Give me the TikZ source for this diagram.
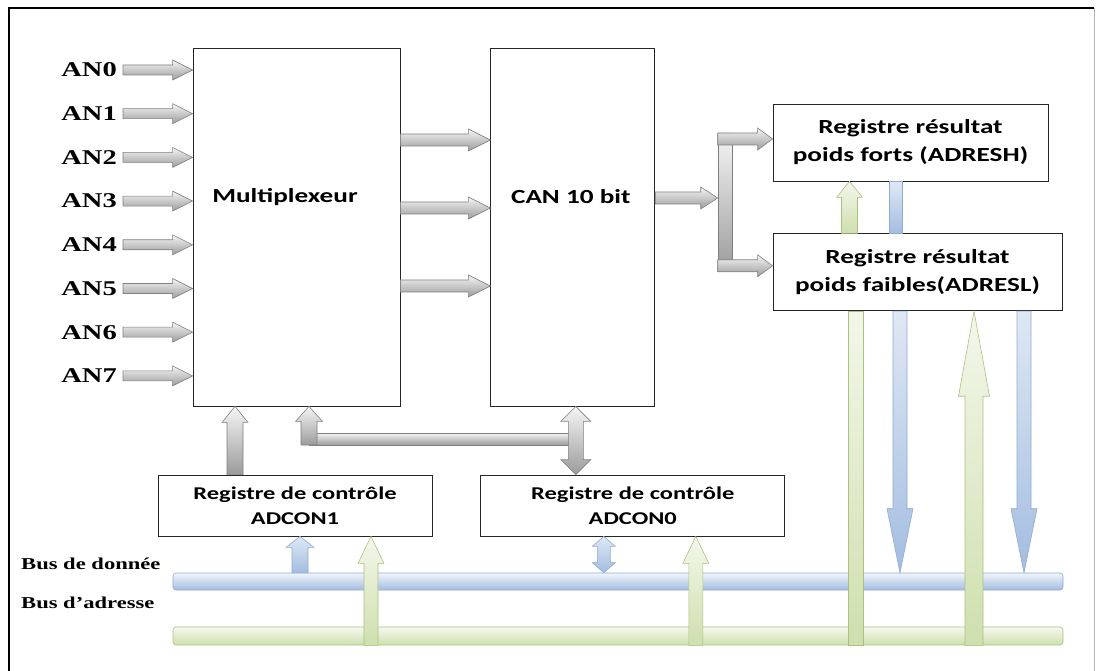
\documentclass[tikz,border=0pt]{standalone}
\usepackage{fontspec}
\setmainfont{Liberation Serif}[FakeStretch=1.36]
\newfontfamily\calibri{Carlito}[FakeStretch=1.36]
\usetikzlibrary{calc,positioning}

\definecolor{arrline}{HTML}{7F7F7F}
\definecolor{gline}{HTML}{ABC27E}
\definecolor{gfill}{HTML}{CFDFAE}
\definecolor{bline}{HTML}{8FAAD2}
\definecolor{bfill}{HTML}{A3BDE0}

% block arrows: shaft half width, head half width, head length
\tikzset{
  fat/.style n args={3}{to path={
    let \p1=(\tikztostart), \p2=(\tikztotarget),
        \n1={veclen(\x2-\x1,\y2-\y1)},
        \n2={(\x2-\x1)/\n1}, \n3={(\y2-\y1)/\n1},
        \p3=({\x2-(\n2)*(#3)},{\y2-(\n3)*(#3)})
    in ({\x1-(\n3)*(#1)},{\y1+(\n2)*(#1)}) -- ({\x3-(\n3)*(#1)},{\y3+(\n2)*(#1)})
       -- ({\x3-(\n3)*(#2)},{\y3+(\n2)*(#2)}) -- (\p2)
       -- ({\x3+(\n3)*(#2)},{\y3-(\n2)*(#2)}) -- ({\x3+(\n3)*(#1)},{\y3-(\n2)*(#1)})
       -- ({\x1+(\n3)*(#1)},{\y1-(\n2)*(#1)}) -- cycle
  }},
  fatboth/.style n args={3}{to path={
    let \p1=(\tikztostart), \p2=(\tikztotarget),
        \n1={veclen(\x2-\x1,\y2-\y1)},
        \n2={(\x2-\x1)/\n1}, \n3={(\y2-\y1)/\n1},
        \p3=({\x2-(\n2)*(#3)},{\y2-(\n3)*(#3)}),
        \p4=({\x1+(\n2)*(#3)},{\y1+(\n3)*(#3)})
    in (\p1) -- ({\x4-(\n3)*(#2)},{\y4+(\n2)*(#2)}) -- ({\x4-(\n3)*(#1)},{\y4+(\n2)*(#1)})
       -- ({\x3-(\n3)*(#1)},{\y3+(\n2)*(#1)}) -- ({\x3-(\n3)*(#2)},{\y3+(\n2)*(#2)})
       -- (\p2)
       -- ({\x3+(\n3)*(#2)},{\y3-(\n2)*(#2)}) -- ({\x3+(\n3)*(#1)},{\y3-(\n2)*(#1)})
       -- ({\x4+(\n3)*(#1)},{\y4-(\n2)*(#1)}) -- ({\x4+(\n3)*(#2)},{\y4-(\n2)*(#2)})
       -- cycle
  }},
}

\begin{document}
\begin{tikzpicture}[
  x=1pt, y=-1pt,
  reg/.style={draw=black!85, line width=0.8pt, fill=white, inner sep=0pt, align=center},
  regfont/.style={font=\calibri\bfseries\fontsize{18}{25}\selectfont},
  resfont/.style={font=\calibri\bfseries\fontsize{20}{28}\selectfont},
  bigfont/.style={font=\calibri\bfseries\fontsize{20}{24}\selectfont},
  anlabel/.style={font=\bfseries\fontsize{21}{25}\selectfont, inner sep=0pt, anchor=east},
  buslabel/.style={font=\bfseries\fontsize{16.6}{20}\selectfont, inner sep=0pt, anchor=west},
  grayarr/.style={draw=arrline, line width=0.6pt, top color=gray!8, bottom color=gray!78},
  greenarr/.style={draw=gline, line width=0.6pt, top color=gfill!25, bottom color=gfill},
  bluearr/.style={draw=bline, line width=0.6pt, top color=bfill!35, bottom color=bfill},
  bus/.style={minimum width=890pt, inner sep=0pt, rounded corners=3pt, line width=0.6pt}
]
\useasboundingbox (0,0) rectangle (1096,671);
\draw[line width=2pt] (9,680) -- (9,8) -- (1094,8);
\draw[line width=1pt, gray!60] (1094,8) -- (1094,680);

% blocks
\node[reg, minimum width=207pt, minimum height=358pt,
  label={[bigfont, xshift=-11.5pt, yshift=30pt]center:Multiplexeur}] (mux) at (296.5,227) {};
\node[reg, minimum width=164pt, minimum height=358pt, right=90pt of mux,
  label={[bigfont, xshift=-2pt, yshift=30pt]center:CAN 10 bit}] (can) {};
\node[reg, resfont, minimum width=275pt, minimum height=77pt] (adresh) at (910.5,142.5)
  {Registre résultat\\poids forts (ADRESH)};
\node[reg, resfont, minimum width=289pt, minimum height=77pt,
  below=52pt of adresh.south west, anchor=north west] (adresl)
  {Registre résultat\\poids faibles(ADRESL)};
\node[reg, regfont, minimum width=274pt, minimum height=61pt] (adcon1) at (295,505.5)
  {Registre de contrôle\\ADCON1};
\node[reg, regfont, minimum width=304pt, minimum height=61pt, right=48pt of adcon1] (adcon0)
  {Registre de contrôle\\ADCON0};

% buses
\node[bus, draw=bline, top color=bfill!15, bottom color=bfill, minimum height=17pt] (databus) at (618,581.5) {};
\node[bus, draw=gline, top color=gfill!20, bottom color=gfill, minimum height=18pt] (addrbus) at (618,636) {};
\node[buslabel] (lbdata) at (21,564) {Bus de donnée};
\node[buslabel] (lbaddr) at (21,603) {Bus d’adresse};

% analog inputs
\foreach \i in {0,...,7} {
  \node[anlabel] (an\i) at (117,{70+43.7*\i}) {AN\i};
  \path[grayarr, fat={5pt}{10pt}{20pt}] ([xshift=6pt]an\i.east) to (an\i.east -| mux.west);
}

% multiplexer to converter
\foreach \s in {87,19,-59}
  \path[grayarr, fat={6pt}{11pt}{22pt}] ([yshift=\s pt]mux.east) to ([yshift=\s pt]can.west);

% converter to result registers
\node[grayarr, minimum width=14pt, minimum height=138pt, inner sep=0pt] (split) at (725,202) {};
\coordinate (canout) at ([yshift=29pt]can.east);
\coordinate (hi) at ([yshift=3.5pt]adresh.west);
\coordinate (lo) at ([yshift=6.5pt]adresl.west);
\path[grayarr, fat={6pt}{11pt}{17pt}] (canout) to (canout -| split.west);
\path[grayarr, fat={6pt}{11pt}{15pt}] (split.west |- hi) to (hi);
\path[grayarr, fat={6pt}{11pt}{15pt}] (split.west |- lo) to (lo);

% control registers
\coordinate (c1) at ([xshift=-60pt]adcon1.north);
\coordinate (c0) at ([xshift=3pt]can.south);
\coordinate (fbk) at (309,439);
\path[grayarr, fat={8pt}{13pt}{16pt}] (c1) to (c1 |- mux.south);
\path[grayarr, fat={6pt}{6pt}{0pt}] (fbk) to (fbk -| c0);
\path[grayarr, fat={8pt}{13.5pt}{15pt}] ([yshift=-6pt]fbk) to (fbk |- mux.south);
\path[grayarr, fatboth={7.5pt}{15pt}{15pt}] (c0) to (c0 |- adcon0.north);

% between result registers
\coordinate (r1) at ([xshift=-68pt]adresl.north);
\coordinate (r2) at ([xshift=-21.5pt]adresl.north);
\path[greenarr, fat={8pt}{13pt}{16pt}] (r1) to (r1 |- adresh.south);
\path[bluearr, fat={6.5pt}{6.5pt}{0pt}] (r2 |- adresh.south) to (r2);

% bus links
\coordinate (g1) at ([xshift=-61.5pt]adresl.south);
\coordinate (b1) at ([xshift=-17.5pt]adresl.south);
\coordinate (g2) at ([xshift=56.5pt]adresl.south);
\coordinate (b2) at ([xshift=106.5pt]adresl.south);
\path[greenarr, fat={7.5pt}{7.5pt}{0pt}] (g1 |- addrbus.south) to (g1);
\path[bluearr, fat={7pt}{13pt}{64pt}] (b1) to (b1 |- databus.north);
\path[greenarr, fat={9pt}{15.5pt}{85pt}] (g2 |- addrbus.south) to (g2);
\path[bluearr, fat={7pt}{13pt}{64pt}] (b2) to (b2 |- databus.north);

\coordinate (d1) at ([xshift=5pt]adcon1.south);
\coordinate (a1) at ([xshift=76pt]adcon1.south);
\coordinate (d0) at ([xshift=-29pt]adcon0.south);
\coordinate (a0) at ([xshift=63pt]adcon0.south);
\path[bluearr, fat={8pt}{14pt}{11pt}] (d1 |- databus.north) to (d1);
\path[greenarr, fat={7pt}{13pt}{27pt}] (a1 |- addrbus.south) to (a1);
\path[bluearr, fatboth={6.5pt}{11.5pt}{10pt}] (d0) to (d0 |- databus.north);
\path[greenarr, fat={7pt}{13pt}{27pt}] (a0 |- addrbus.south) to (a0);

\end{tikzpicture}
\end{document}
